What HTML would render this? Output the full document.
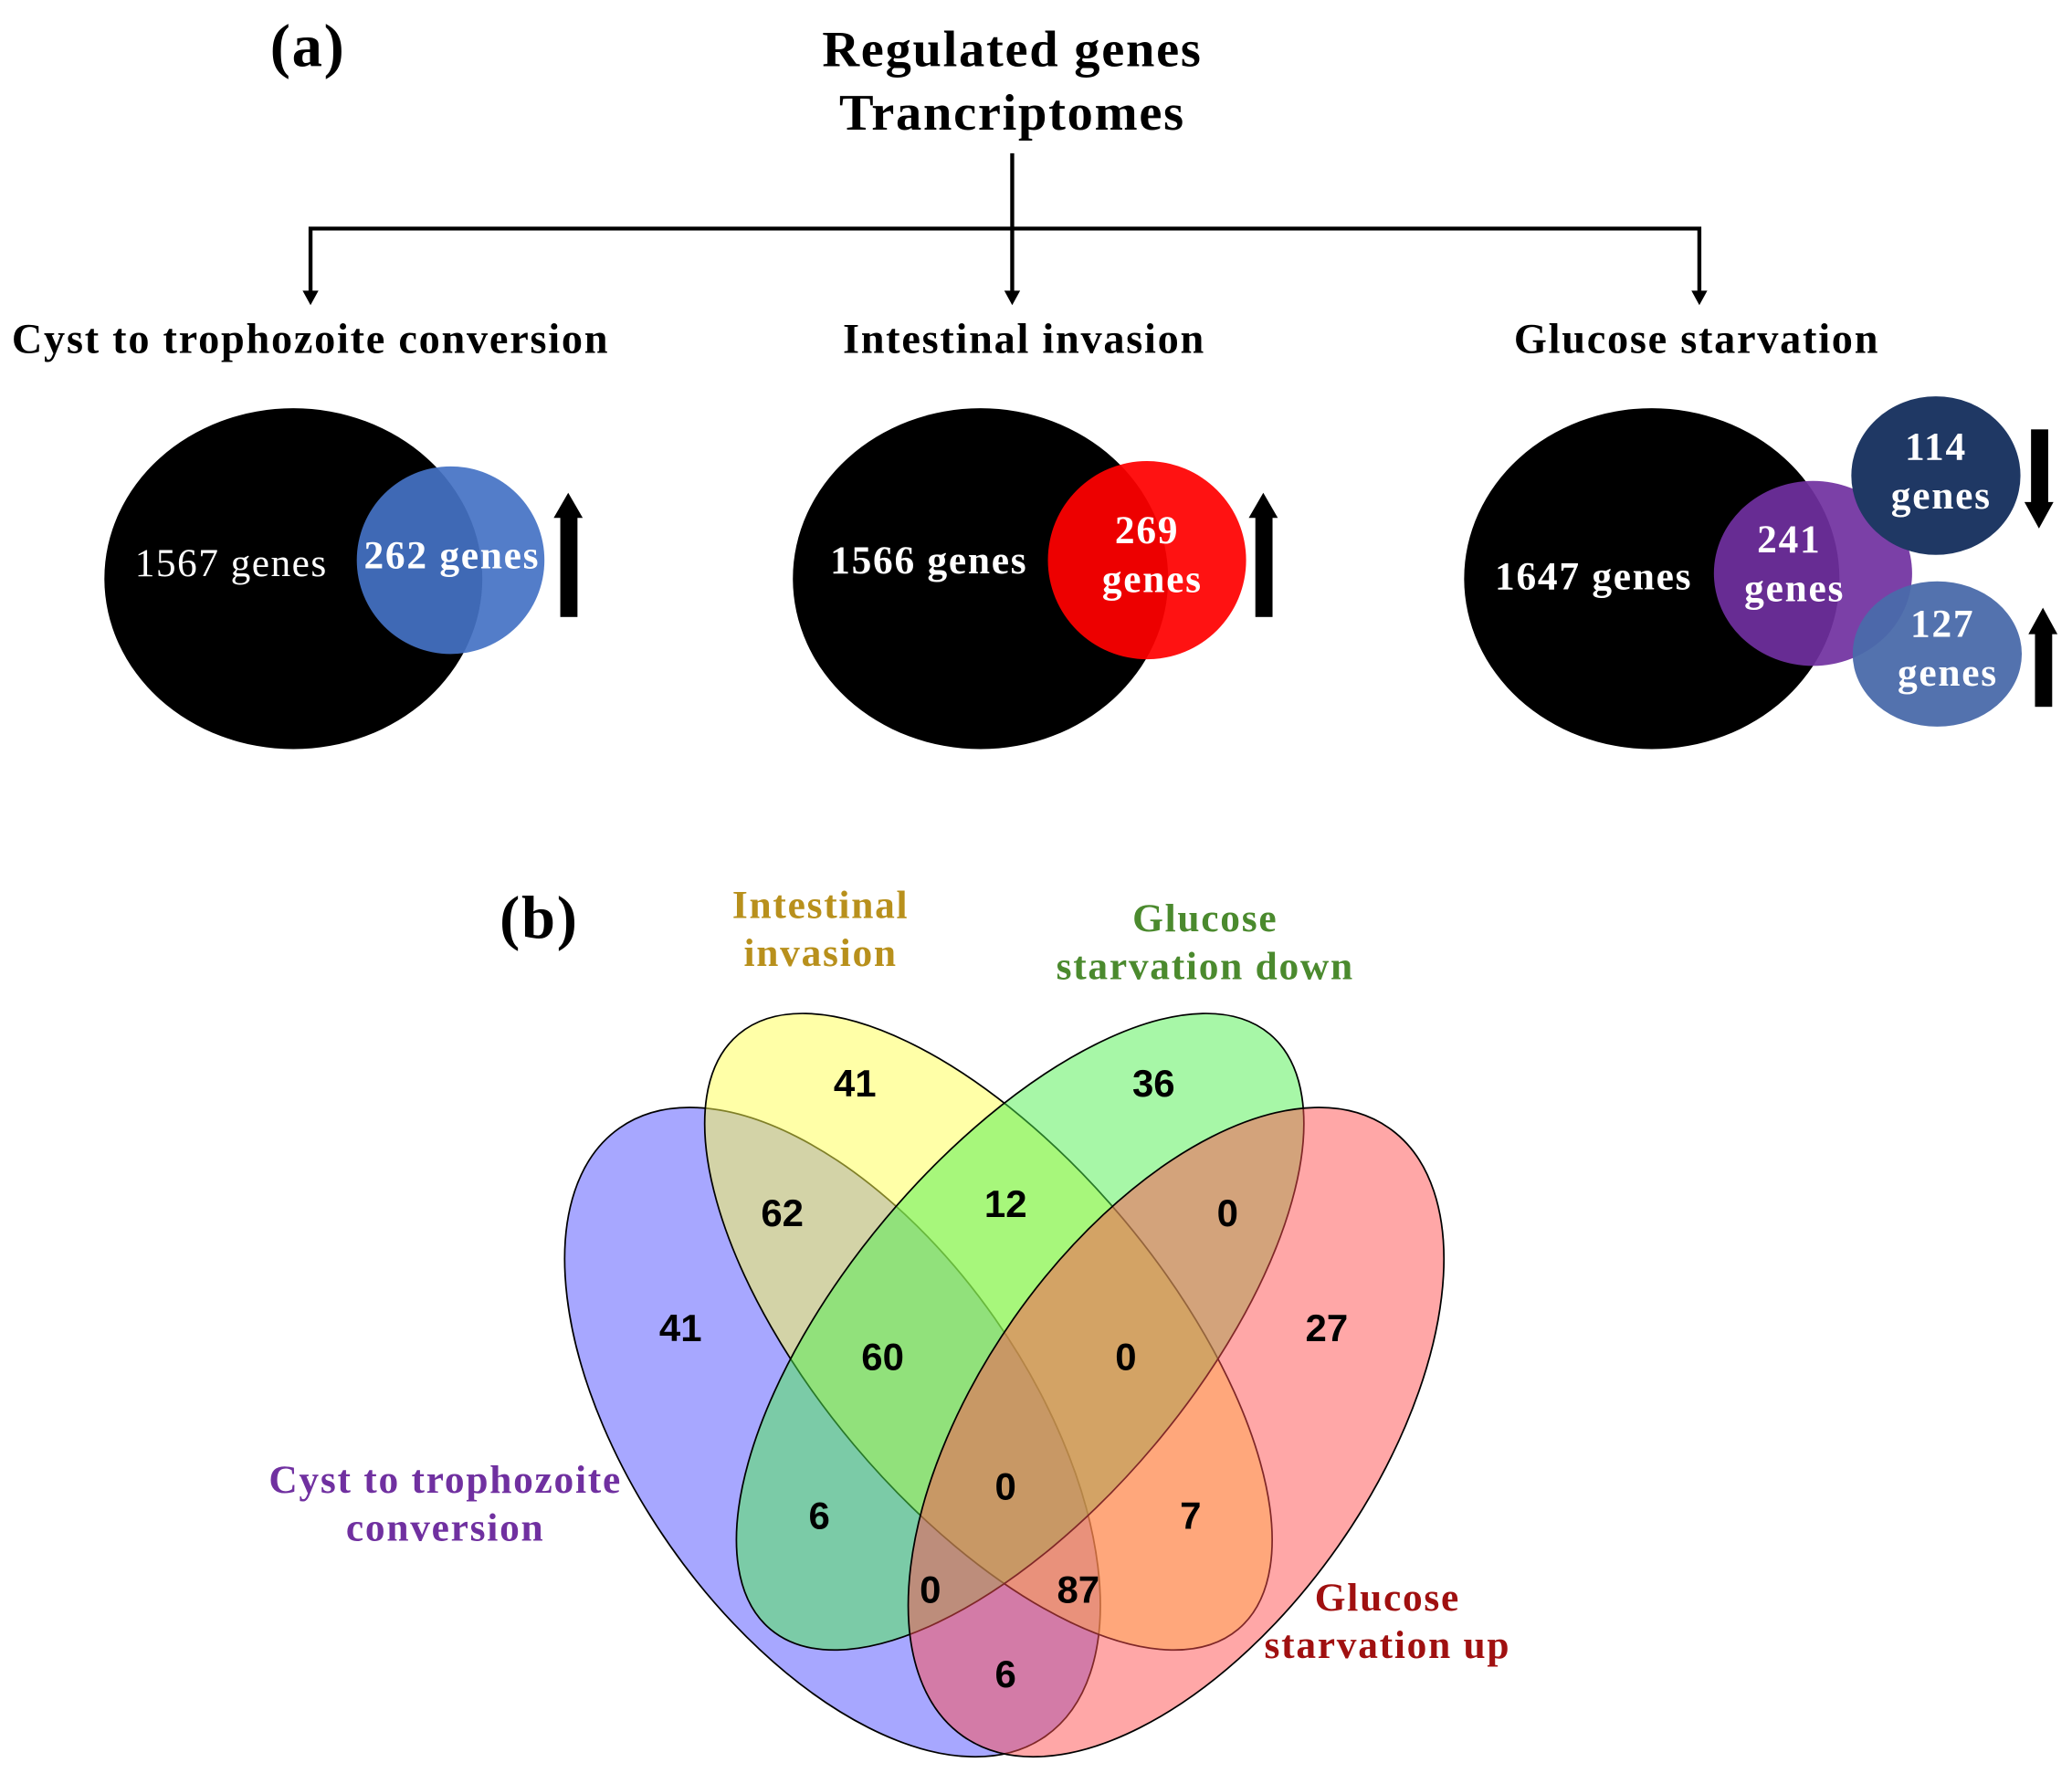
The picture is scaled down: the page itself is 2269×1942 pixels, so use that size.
<!DOCTYPE html>
<html><head><meta charset="utf-8"><style>
html,body{margin:0;padding:0;background:#fff;}
svg{display:block;}
.s{font-family:"Liberation Serif",serif;font-weight:bold;letter-spacing:1.2px;}
.n{font-family:"Liberation Sans",sans-serif;font-weight:bold;font-size:29px;fill:#000;text-anchor:middle;}
</style></head><body>
<svg width="2269" height="1942" viewBox="0 0 1568 1342" xmlns="http://www.w3.org/2000/svg">
<rect width="1568" height="1342" fill="#fff"/>
<!-- part a -->
<text x="233" y="50" class="s" font-size="46" text-anchor="middle">(a)</text>
<text x="766" y="50" class="s" font-size="39" text-anchor="middle">Regulated genes</text>
<text x="766" y="98" class="s" font-size="39" text-anchor="middle">Trancriptomes</text>
<g stroke="#000" stroke-width="3" fill="none">
<line x1="766" y1="116" x2="766" y2="222"/>
<polyline points="235,222 235,173 1286,173 1286,222"/>
</g>
<path d="M229,220 L241,220 L235,231 Z M760,220 L772,220 L766,231 Z M1280,220 L1292,220 L1286,231 Z"/>
<text x="235" y="267" class="s" font-size="32" text-anchor="middle">Cyst to trophozoite conversion</text>
<text x="775" y="267" class="s" font-size="32" text-anchor="middle">Intestinal invasion</text>
<text x="1284" y="267" class="s" font-size="32" text-anchor="middle">Glucose starvation</text>

<ellipse cx="222" cy="438" rx="143" ry="129" fill="#000"/>
<circle cx="341" cy="424" r="71" fill="#4472c4" fill-opacity="0.92"/>
<text x="175" y="436" font-family="Liberation Serif,serif" font-size="30" letter-spacing="1" fill="#fff" text-anchor="middle">1567 genes</text>
<text x="342" y="430" class="s" font-size="30" fill="#fff" text-anchor="middle">262 genes</text>
<rect x="424" y="390" width="13" height="77"/><path d="M419,392 L430,373 L441,392 Z"/>

<ellipse cx="742" cy="438" rx="142" ry="129" fill="#000"/>
<circle cx="868" cy="424" r="75" fill="#ff0000" fill-opacity="0.93"/>
<text x="703" y="434" class="s" font-size="30" fill="#fff" text-anchor="middle">1566 genes</text>
<text x="868" y="411" class="s" font-size="30" fill="#fff" text-anchor="middle">269</text>
<text x="872" y="448" class="s" font-size="30" fill="#fff" text-anchor="middle">genes</text>
<rect x="950" y="390" width="13" height="77"/><path d="M945,392 L956,373 L967,392 Z"/>

<ellipse cx="1250" cy="438" rx="142" ry="129" fill="#000"/>
<ellipse cx="1372" cy="434" rx="75" ry="70" fill="#7030a0" fill-opacity="0.92"/>
<ellipse cx="1465" cy="360" rx="64" ry="60" fill="#1f3864"/>
<ellipse cx="1466" cy="495" rx="64" ry="55" fill="#4a6aaa" fill-opacity="0.95"/>
<text x="1206" y="446" class="s" font-size="30" fill="#fff" text-anchor="middle">1647 genes</text>
<text x="1354" y="418" class="s" font-size="30" fill="#fff" text-anchor="middle">241</text>
<text x="1358" y="455" class="s" font-size="30" fill="#fff" text-anchor="middle">genes</text>
<text x="1465" y="348" class="s" font-size="30" fill="#fff" text-anchor="middle">114</text>
<text x="1469" y="385" class="s" font-size="30" fill="#fff" text-anchor="middle">genes</text>
<text x="1470" y="482" class="s" font-size="30" fill="#fff" text-anchor="middle">127</text>
<text x="1474" y="519" class="s" font-size="30" fill="#fff" text-anchor="middle">genes</text>
<rect x="1537" y="325" width="13" height="57"/><path d="M1532,380 L1543,400 L1554,380 Z"/>
<rect x="1540" y="478" width="13" height="57"/><path d="M1535,480 L1546,460 L1557,480 Z"/>

<!-- part b -->
<text x="408" y="710" class="s" font-size="46" text-anchor="middle">(b)</text>
<text x="621" y="695" class="s" font-size="30" fill="#b8901c" text-anchor="middle">Intestinal</text>
<text x="621" y="731" class="s" font-size="30" fill="#b8901c" text-anchor="middle">invasion</text>
<text x="912" y="705" class="s" font-size="30" fill="#4b8a2e" text-anchor="middle">Glucose</text>
<text x="912" y="741" class="s" font-size="30" fill="#4b8a2e" text-anchor="middle">starvation down</text>
<text x="337" y="1130" class="s" font-size="30" fill="#7030a0" text-anchor="middle">Cyst to trophozoite</text>
<text x="337" y="1166" class="s" font-size="30" fill="#7030a0" text-anchor="middle">conversion</text>
<text x="1050" y="1219" class="s" font-size="30" fill="#a01010" text-anchor="middle">Glucose</text>
<text x="1050" y="1255" class="s" font-size="30" fill="#a01010" text-anchor="middle">starvation up</text>

<g stroke="#000" stroke-width="1.2">
<ellipse cx="0" cy="0" rx="150" ry="281" transform="translate(630,1084) rotate(-35)" fill="#5050ff" fill-opacity="0.5"/>
<ellipse cx="0" cy="0" rx="133" ry="294" transform="translate(748,1008) rotate(-40)" fill="#ffff50" fill-opacity="0.5"/>
<ellipse cx="0" cy="0" rx="133" ry="294" transform="translate(772,1008) rotate(40)" fill="#50f050" fill-opacity="0.5"/>
<ellipse cx="0" cy="0" rx="150" ry="281" transform="translate(890,1084) rotate(35)" fill="#ff5050" fill-opacity="0.5"/>
</g>
<g class="n">
<text x="647" y="830">41</text>
<text x="873" y="830">36</text>
<text x="592" y="928">62</text>
<text x="761" y="921">12</text>
<text x="929" y="928">0</text>
<text x="515" y="1015">41</text>
<text x="668" y="1037">60</text>
<text x="852" y="1037">0</text>
<text x="1004" y="1015">27</text>
<text x="761" y="1135">0</text>
<text x="620" y="1157">6</text>
<text x="901" y="1157">7</text>
<text x="704" y="1213">0</text>
<text x="816" y="1213">87</text>
<text x="761" y="1277">6</text>
</g>
</svg>
</body></html>
